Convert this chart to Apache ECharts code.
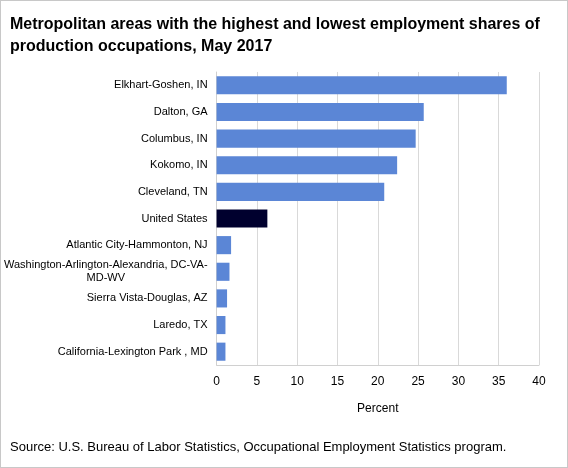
<!DOCTYPE html>
<html>
<head>
<meta charset="utf-8">
<script src="https://cdn.jsdelivr.net/npm/echarts@6.0.0/dist/echarts.min.js"></script>
<style>
  html, body { margin: 0; padding: 0; background: #fff; }
  #chart { width: 566px; height: 466px; border: 1px solid #c8c8c8; }
</style>
</head>
<body>
<div id="chart"></div>
<script>
// --- DATA ---
const areas = [
  'Elkhart-Goshen, IN',
  'Dalton, GA',
  'Columbus, IN',
  'Kokomo, IN',
  'Cleveland, TN',
  'United States',
  'Atlantic City-Hammonton, NJ',
  'Washington-Arlington-Alexandria, DC-VA-\nMD-WV',
  'Sierra Vista-Douglas, AZ',
  'Laredo, TX',
  'California-Lexington Park , MD'
];
const shares = [36.0, 25.7, 24.7, 22.4, 20.8, 6.3, 1.8, 1.6, 1.3, 1.1, 1.1];
const xTicks = [0, 5, 10, 15, 20, 25, 30, 35, 40];

const FONT = 'Arial, "Liberation Sans", sans-serif';
const BLUE = '#5b86d6';
const NAVY = '#00002e';

const chart = echarts.init(document.getElementById('chart'));

// category axis runs bottom-up, so flip the lists
const cats = areas.slice().reverse();
const vals = shares.slice().reverse().map((v, i) => ({
  value: v,
  itemStyle: { color: cats[i] === 'United States' ? NAVY : BLUE }
}));

chart.setOption({
  animation: false,
  title: {
    text: 'Metropolitan areas with the highest and lowest employment shares of\nproduction occupations, May 2017',
    left: 9,
    top: 13,
    padding: 0,
    textStyle: { fontFamily: FONT, fontSize: 16, fontWeight: 'bold', color: '#000', lineHeight: 22 }
  },
  graphic: [{
    type: 'text',
    left: 9,
    top: 440,
    style: {
      text: 'Source: U.S. Bureau of Labor Statistics, Occupational Employment Statistics program.',
      font: '13px ' + FONT,
      fill: '#000'
    }
  }],
  grid: { left: 211, right: 28, top: 71, bottom: 102, containLabel: false },
  xAxis: {
    type: 'value',
    min: xTicks[0],
    max: xTicks[xTicks.length - 1],
    interval: 5,
    name: 'Percent',
    nameLocation: 'middle',
    nameGap: 38,
    nameTextStyle: { fontFamily: FONT, fontSize: 12, color: '#000' },
    axisLine: { show: true, lineStyle: { color: '#d0d0d0' } },
    axisTick: { show: false },
    axisLabel: { fontFamily: FONT, fontSize: 12, color: '#000', margin: 11 },
    splitLine: { show: true, lineStyle: { color: '#d9d9d9' } }
  },
  yAxis: {
    type: 'category',
    data: cats,
    axisLine: { show: true, lineStyle: { color: '#d0d0d0' } },
    axisTick: { show: false },
    axisLabel: {
      fontFamily: FONT,
      fontSize: 11,
      color: '#000',
      margin: 9,
      interval: 0,
      lineHeight: 13,
      formatter: function (v) {
        if (v.indexOf('\n') < 0) return v;
        return v.split('\n').map(s => '{c|' + s + '}').join('\n');
      },
      rich: { c: { align: 'center', fontFamily: FONT, fontSize: 11, color: '#000', lineHeight: 13 } }
    }
  },
  series: [{
    type: 'bar',
    data: vals,
    barCategoryGap: '32%'
  }]
});
</script>
</body>
</html>
